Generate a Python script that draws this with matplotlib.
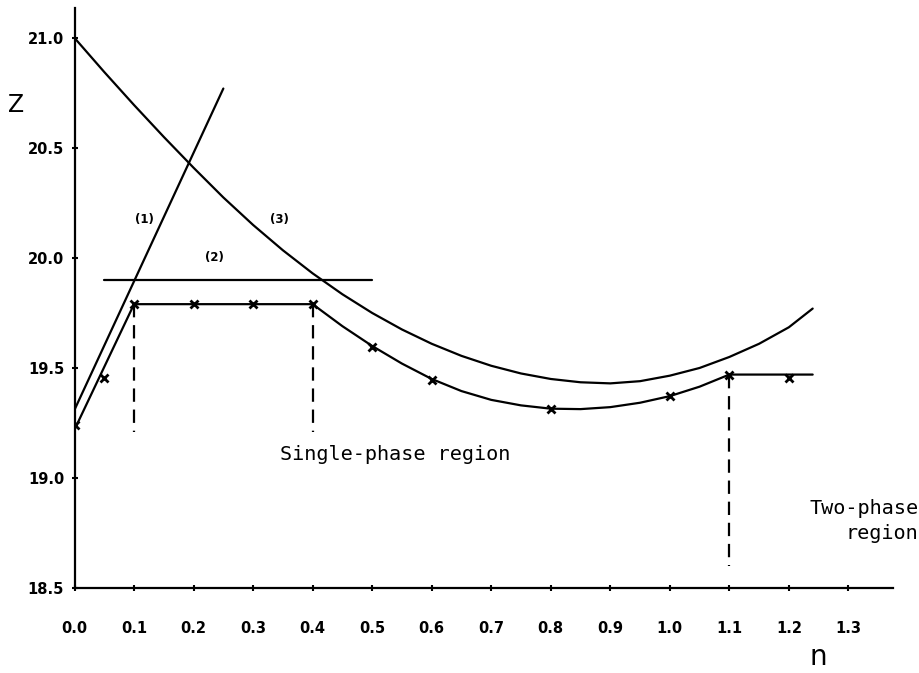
import matplotlib.pyplot as plt
import numpy as np

# Curve (1): straight line
line1_n = [0.0, 0.25]
line1_z = [19.31, 20.77]

# Curve (2): horizontal line
line2_n = [0.05, 0.50]
line2_z = [19.90, 19.90]

# Curve (3)
curve3_n = [0.00, 0.05, 0.10, 0.15, 0.20, 0.25, 0.30, 0.35, 0.40, 0.45, 0.50, 0.55, 0.60,
            0.65, 0.70, 0.75, 0.80, 0.85, 0.90, 0.95, 1.00, 1.05, 1.10, 1.15, 1.20, 1.24]
curve3_z = [21.00, 20.845, 20.695, 20.55, 20.41, 20.275, 20.15, 20.035, 19.93, 19.835, 19.75, 19.675,
            19.61, 19.555, 19.51, 19.475, 19.45, 19.435, 19.43, 19.44, 19.465, 19.50, 19.55, 19.61,
            19.685, 19.77]

# Fitted lower curve
lower_n = [0.00, 0.10, 0.40, 0.45, 0.50, 0.55, 0.60, 0.65, 0.70, 0.75, 0.80, 0.85,
           0.90, 0.95, 1.00, 1.05, 1.10, 1.24]
lower_z = [19.22, 19.79, 19.79, 19.69, 19.60, 19.52, 19.45, 19.395, 19.355, 19.33, 19.315, 19.313,
           19.322, 19.342, 19.372, 19.415, 19.47, 19.47]

# Measured points
meas_n = [0.0, 0.05, 0.1, 0.2, 0.3, 0.4, 0.5, 0.6, 0.8, 1.0, 1.1, 1.2]
meas_z = [19.24, 19.455, 19.79, 19.79, 19.79, 19.79, 19.595, 19.445, 19.315, 19.373, 19.468, 19.455]

# Dashed boundaries: (n, top, bottom)
bound_n = [0.1, 0.4, 1.1]
bound_top = [19.79, 19.79, 19.47]
bound_bottom = [19.21, 19.21, 18.60]

xticks = np.round(np.arange(0, 1.31, 0.1), 1)
yticks = [18.5, 19.0, 19.5, 20.0, 20.5, 21.0]

fig = plt.figure(figsize=(9.2, 6.73), dpi=100)
ax = fig.add_axes([0.081, 0.1263, 0.8897, 0.8618])

lw = 1.6
style = dict(color='black', lw=lw, solid_joinstyle='round', solid_capstyle='round')
ax.plot(line1_n, line1_z, **style)
ax.plot(line2_n, line2_z, **style)
ax.plot(curve3_n, curve3_z, **style)
ax.plot(lower_n, lower_z, **style)
ax.plot(meas_n, meas_z, linestyle='none', marker='x', color='black', markersize=6, mew=2)

for n, top, bot in zip(bound_n, bound_top, bound_bottom):
    ax.plot([n, n], [top, bot], color='black', lw=1.6, linestyle=(0, (6, 3.5)))

ax.text(0.118, 20.173, '(1)', fontsize=8.5, fontweight='bold', ha='center', va='center')
ax.text(0.235, 20.0, '(2)', fontsize=8.5, fontweight='bold', ha='center', va='center')
ax.text(0.345, 20.173, '(3)', fontsize=8.5, fontweight='bold', ha='center', va='center')

ax.text(0.345, 19.105, 'Single-phase region', fontsize=14.5, family='DejaVu Sans Mono',
        ha='left', va='center')
fig.text(0.998, 0.226, 'Two-phase\nregion', fontsize=14.5, family='DejaVu Sans Mono',
         ha='right', va='center', multialignment='right', linespacing=1.35)

fig.text(0.018, 0.844, 'Z', fontsize=17, ha='center', va='center')
fig.text(0.889, 0.024, 'n', fontsize=20, ha='center', va='center')

ax.set_xlim(0, 1.375)
ax.set_ylim(18.5, 21.136)
ax.set_xticks(xticks)
ax.set_xticklabels([f'{v:.1f}' for v in xticks])
ax.set_yticks(yticks)
ax.set_yticklabels([f'{v:.1f}' for v in yticks])

for s in ['top', 'right']:
    ax.spines[s].set_visible(False)
for s in ['left', 'bottom']:
    ax.spines[s].set_linewidth(1.6)

ax.tick_params(axis='both', direction='inout', length=5, width=1.5, labelsize=10.5)
ax.tick_params(axis='x', pad=21)
ax.tick_params(axis='y', pad=5)
for lab in ax.get_xticklabels() + ax.get_yticklabels():
    lab.set_fontweight('bold')

plt.savefig('out.png', dpi=100)
